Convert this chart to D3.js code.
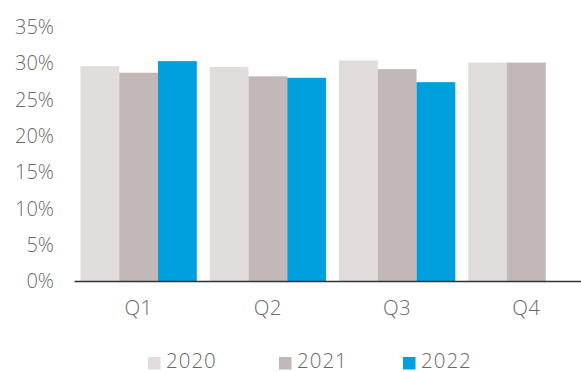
<!DOCTYPE html>
<html>
<head>
<meta charset="utf-8">
<script src="https://cdn.jsdelivr.net/npm/d3@7"></script>
<style>
  html, body { margin: 0; padding: 0; background: #fff; overflow: hidden; }
  svg { display: block; }
  text { font-family: "Open Sans", "Noto Sans", sans-serif; font-weight: 300; fill: #6a6a6a; }
</style>
</head>
<body>
<svg id="chart" width="581" height="372"></svg>
<script>
// Quarterly share, by year (percent)
const quarters = ["Q1", "Q2", "Q3", "Q4"];
const years = ["2020", "2021", "2022"];
const values2020 = [29.6, 29.5, 30.4, 30.1];
const values2021 = [28.7, 28.2, 29.2, 30.1];
const values2022 = [30.3, 28.0, 27.4, null];
const yTicks = [0, 5, 10, 15, 20, 25, 30, 35];
const colors = ["#e2dddd", "#c2b8b7", "#00a0df"];

const seriesValues = [values2020, values2021, values2022];
const rows = quarters.map((q, i) => ({
  quarter: q,
  bars: years.map((y, j) => ({ year: y, value: seriesValues[j][i], color: colors[j] }))
    .filter(d => d.value != null)
}));

const svg = d3.select("#chart");

const x = d3.scaleBand().domain(quarters).range([74, 591]).paddingInner(0.1).paddingOuter(0.05);
const xInner = d3.scaleBand().domain(years).range([0, x.bandwidth()]);
const y = d3.scaleLinear().domain([0, 35]).range([281, 27]);

// y tick labels
svg.append("g").selectAll("text").data(yTicks).join("text")
  .attr("x", 54).attr("y", d => y(d)).attr("dy", "0.36em")
  .attr("text-anchor", "end").style("font-size", "20px")
  .text(d => d + "%");

// bars
const groups = svg.append("g").selectAll("g").data(rows).join("g")
  .attr("transform", d => `translate(${x(d.quarter)},0)`);
groups.selectAll("rect").data(d => d.bars).join("rect")
  .attr("x", d => xInner(d.year))
  .attr("width", xInner.bandwidth())
  .attr("y", d => y(d.value))
  .attr("height", d => y(0) - y(d.value))
  .attr("fill", d => d.color);

// baseline axis
const xAxis = d3.axisBottom(x).tickSize(0).tickPadding(19);
const gx = svg.append("g").attr("transform", `translate(0,${y(0)})`).call(xAxis);
gx.select(".domain").attr("stroke", "#333").attr("stroke-width", 1.4);
gx.selectAll("text").style("font-size", "20.5px").style("font-family", null)
  .style("letter-spacing", "0.5px").attr("fill", null);

// legend
const legendX = [148, 279, 403];
const legend = svg.append("g").selectAll("g").data(years).join("g")
  .attr("transform", (d, i) => `translate(${legendX[i]},357)`);
legend.append("rect").attr("width", 12.5).attr("height", 12.5)
  .attr("fill", (d, i) => colors[i]);
legend.append("text").attr("x", 18).attr("y", 10.5)
  .style("font-size", "20.5px").style("letter-spacing", "1px").text(d => d);
</script>
</body>
</html>
